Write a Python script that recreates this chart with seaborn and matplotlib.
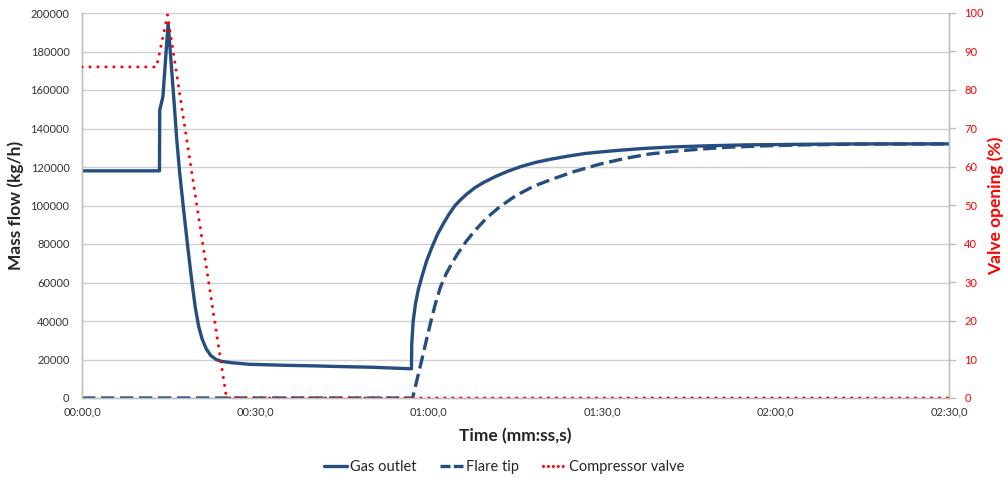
import numpy as np
import pandas as pd
import matplotlib
matplotlib.use("Agg")
import matplotlib.pyplot as plt
import seaborn as sns

# ---- data (time in seconds) ----
gas_t = [0, 13.4, 13.45, 14.0, 14.9, 15.4, 15.9, 16.4, 16.9, 17.5, 18.2, 18.9, 19.6, 20.2,
         20.8, 21.5, 22.3, 23.2, 24.2, 26, 29, 35, 40, 45, 50, 55, 56.9, 57.0, 57.05, 57.3,
         57.7, 58.2, 58.8, 59.6, 60.5, 61.5, 62.5, 63.5, 64.5, 65.5, 66.6, 68, 69.5, 71.5,
         73.5, 76, 78.5, 81, 84, 87, 90, 93, 97, 102, 108, 115, 125, 135, 150]
gas_v = [118000, 118000, 149600, 156500, 194600, 175000, 155000, 134000, 117000, 100000,
         81000, 63000, 47000, 37000, 30500, 25500, 22000, 20000, 19000, 18300, 17500, 17000,
         16700, 16300, 16000, 15400, 15200, 15200, 28000, 40000, 49000, 56500, 63000, 71000,
         78000, 85000, 90500, 95500, 99800, 103000, 106000, 109300, 112000, 115000, 117600,
         120300, 122400, 124000, 125600, 127000, 127900, 128700, 129600, 130400, 131000,
         131500, 131800, 132000, 132000]

flare_t = [0, 57.2, 57.6, 58.0, 58.8, 59.5, 60.3, 61.1, 62, 63, 64, 65, 66.5, 68, 70, 72.3,
           75, 78, 81, 85, 89.6, 94, 98.3, 103, 107, 112, 118, 125, 135, 150]
flare_v = [0, 0, 5000, 10000, 20000, 29000, 39000, 48500, 57500, 64500, 70000, 75000, 81500,
           87000, 93500, 99400, 105000, 109800, 113300, 117500, 121500, 124500, 126800,
           128300, 129300, 130300, 131000, 131500, 131900, 132000]

valve_t = [0, 12.9, 14.8, 25.0, 150]
valve_v = [86, 86, 99.5, 0, 0]

x_ticks = [0, 30, 60, 90, 120, 150]
x_labels = ["00:00,0", "00:30,0", "01:00,0", "01:30,0", "02:00,0", "02:30,0"]

BLUE = "#254D80"
RED = "#FF0000"
GRID = "#D0D0D0"

sns.set_style("white")
plt.rcParams["font.family"] = ["Lato", "DejaVu Sans"]

fig = plt.figure(figsize=(10.08, 4.83), dpi=100)
ax = fig.add_axes([82/1008, 1-398/483, (949-82)/1008, (398-13)/483])

gas = pd.DataFrame({"t": gas_t, "v": gas_v})
flare = pd.DataFrame({"t": flare_t, "v": flare_v})
valve = pd.DataFrame({"t": valve_t, "v": valve_v})

sns.lineplot(data=gas, x="t", y="v", ax=ax, color=BLUE, lw=2.4, label="Gas outlet", legend=False, zorder=3)
sns.lineplot(data=flare, x="t", y="v", ax=ax, color=BLUE, lw=2.4, label="Flare tip", legend=False, zorder=3)
ax.lines[-1].set_dashes([4.0, 1.7])
for l in ax.lines:
    l.set_solid_joinstyle("round")

ax2 = ax.twinx()
sns.lineplot(data=valve, x="t", y="v", ax=ax2, color=RED, lw=2.2, label="Compressor valve", legend=False, zorder=4)
ax2.lines[-1].set_linestyle((0, (0.01, 2.6)))
ax2.lines[-1].set_dash_capstyle("round")

ax.set_xlim(0, 150)
ax.set_ylim(0, 200000)
ax2.set_ylim(0, 100)
ax.set_yticks(np.arange(0, 200001, 20000))
ax.set_yticklabels([str(v) for v in range(0, 200001, 20000)])
ax2.set_yticks(np.arange(0, 101, 10))
ax.set_xticks(x_ticks)
ax.set_xticklabels(x_labels)

ax.grid(axis="y", color=GRID, lw=1)
ax.grid(axis="x", visible=False)
ax2.grid(False)

for a in (ax, ax2):
    for s in a.spines.values():
        s.set_color("#BFBFBF")
        s.set_linewidth(1)
ax.spines["top"].set_visible(False)
ax2.spines["top"].set_visible(False)

ax.tick_params(axis="y", length=0, labelsize=8, colors="#333333", pad=9)
ax.tick_params(axis="x", length=0, labelsize=8, colors="#333333", pad=6)
ax2.tick_params(axis="y", length=5, width=1, color="#BFBFBF", labelsize=8, labelcolor=RED, pad=6)

ax.set_xlabel("Time (mm:ss,s)", fontsize=12.5, fontweight="bold", labelpad=8)
ax.set_ylabel("Mass flow (kg/h)", fontsize=12.5, fontweight="bold", labelpad=5)
ax2.set_ylabel("Valve opening (%)", fontsize=12.5, fontweight="bold", color=RED, labelpad=3)

handles = ax.lines[:2] + [ax2.lines[-1]]
labels = ["Gas outlet", "Flare tip", "Compressor valve"]
leg = fig.legend(handles, labels, loc="center", bbox_to_anchor=(0.5, 1-467/483), ncol=3, frameon=False,
                 fontsize=10.5, handlelength=1.6, handletextpad=0.2, columnspacing=1.6)
leg.legend_handles[1].set_dashes([3.0, 1.0])
leg.legend_handles[2].set_linestyle((0, (0.01, 1.6)))

fig.savefig("out.png", dpi=100)
